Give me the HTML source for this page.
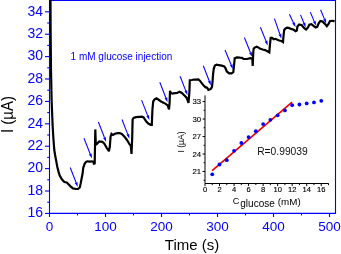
<!DOCTYPE html><html><head><meta charset="utf-8"><style>html,body{margin:0;padding:0;background:#fff;width:341px;height:254px;overflow:hidden}svg{display:block;will-change:transform}text{font-family:"Liberation Sans",sans-serif}</style></head><body>
<svg width="341" height="254" viewBox="0 0 341 254">
<rect width="341" height="254" fill="#fff"/>
<g stroke="#0000ff" stroke-width="1.1" fill="none">
<path d="M49.5,0.5 H335.5 V213.4 H49.5 Z"/>
<path d="M45.00,213.40 H49.5"/>
<path d="M47.20,202.20 H49.5"/>
<path d="M45.00,191.00 H49.5"/>
<path d="M47.20,179.80 H49.5"/>
<path d="M45.00,168.60 H49.5"/>
<path d="M47.20,157.40 H49.5"/>
<path d="M45.00,146.20 H49.5"/>
<path d="M47.20,135.00 H49.5"/>
<path d="M45.00,123.80 H49.5"/>
<path d="M47.20,112.60 H49.5"/>
<path d="M45.00,101.40 H49.5"/>
<path d="M47.20,90.20 H49.5"/>
<path d="M45.00,79.00 H49.5"/>
<path d="M47.20,67.80 H49.5"/>
<path d="M45.00,56.60 H49.5"/>
<path d="M47.20,45.40 H49.5"/>
<path d="M45.00,34.20 H49.5"/>
<path d="M47.20,23.00 H49.5"/>
<path d="M45.00,11.80 H49.5"/>
<path d="M49.50,213.4 V217.00"/>
<path d="M77.50,213.4 V215.40"/>
<path d="M105.50,213.4 V217.00"/>
<path d="M133.50,213.4 V215.40"/>
<path d="M161.50,213.4 V217.00"/>
<path d="M189.50,213.4 V215.40"/>
<path d="M217.50,213.4 V217.00"/>
<path d="M245.50,213.4 V215.40"/>
<path d="M273.50,213.4 V217.00"/>
<path d="M301.50,213.4 V215.40"/>
<path d="M329.50,213.4 V217.00"/>
</g>
<g fill="#0000ff" font-size="14" text-anchor="end">
<text x="43" y="217.10">16</text>
<text x="43" y="194.70">18</text>
<text x="43" y="172.30">20</text>
<text x="43" y="149.90">22</text>
<text x="43" y="127.50">24</text>
<text x="43" y="105.10">26</text>
<text x="43" y="82.70">28</text>
<text x="43" y="60.30">30</text>
<text x="43" y="37.90">32</text>
<text x="43" y="15.50">34</text>
</g>
<g fill="#0000ff" font-size="13.5" text-anchor="middle">
<text x="49.50" y="231">0</text>
<text x="105.50" y="231">100</text>
<text x="161.50" y="231">200</text>
<text x="217.50" y="231">300</text>
<text x="273.50" y="231">400</text>
<text x="329.50" y="231">500</text>
</g>
<text transform="translate(192,250) scale(1,1.02)" font-size="15" text-anchor="middle" fill="#000">Time (s)</text>
<text transform="translate(12.8,114.5) rotate(-90) scale(1,1.06)" font-size="15" text-anchor="middle" fill="#000">I (µA)</text>
<text x="70.6" y="59.5" font-size="10" fill="#0000ff">1 mM glucose injection</text>
<polyline points="50.5,0 50.6,30 51,70 51.6,100 52.2,115 52.6,125 53.5,140 54.3,150 55.1,155 56.2,160.9 57.2,166.5 58.5,171.6 59.6,175.3 61.3,178.4 63.1,180.7 64.4,182.1 66.7,182.5 69,184.8 70.8,186.6 73,188.4 75.8,189 78,188.9 79.8,187.5 80.7,183.4 81.7,178 82.6,173.5 83.2,168 84.7,163.6 86.1,161.8 87.4,161.3 90.2,161.6 92,161.3 93.3,161.8 93.8,163.6 94.7,163.4 95.3,129.4 95.8,144.2 96.5,144.3 99.2,141.4 102.4,141.9 104.2,143.4 106.5,147.5 108.9,151.2 109.8,146.8 110.6,136.5 111.5,133.8 113,135 115.4,133.6 117.8,133.2 119.7,133.2 121.8,134 123.3,135.5 124.5,136.8 126.8,139.7 129.4,144 130.9,146.2 131.5,153.9 132.2,138 132.6,119.5 133.6,118 136,117.2 139.5,116.8 141.9,116.6 143.6,117.4 144.9,119.5 146.5,121.8 148.3,123.6 150.6,124.8 151.8,124.8 152.4,110 153.2,101.5 154.7,99.3 156.5,98.3 158.3,99.5 160.6,101.2 163,102.4 165.3,103.6 167.7,105.4 169,109.3 169.6,103 170,90.8 170.8,93 172.4,93.6 174.8,93.2 177.1,93 179.5,91.8 181.9,93 184.2,95.3 186.6,97.7 188.5,102.8 189.4,92 189.8,80.2 191.8,80 194.2,79.5 196,79.7 198.4,79.5 200.1,80.9 201.9,83.3 203.7,85.6 205.5,87.4 206.6,87.4 207.8,88.6 208.4,90 209.6,89.6 210.8,89 212,86.8 212.5,82.1 213.1,73.8 213.7,69.1 214.9,65.5 216.7,64.6 218.9,65.2 221.8,65.6 224.2,66.4 225.4,68 226.8,71.5 229.2,73.3 231.5,73.3 233.3,72.1 233.9,66.8 234.7,58.2 236.8,57.3 239.8,57.7 241.9,57.8 243.5,59 246.9,59 250.4,58.1 252.3,58.6 252.7,66 253.3,52 253.7,48.5 255,47.4 256.8,46.7 258.6,47.6 260.3,48.8 262.7,49.5 265.1,50.1 267.4,51.2 269.3,52.4 270,44 270.7,37.9 272,37.8 273.8,39.2 275.6,38.8 277.4,39.7 279.2,40.5 281.5,41 283,42 283.6,35 284.2,30 285.3,28.6 287,27.7 288.8,27.9 291,28.9 293.3,29.5 295.6,31.2 296.8,30.6 297.4,26.5 299.2,24.4 301.8,25.2 304,27.9 306.1,29.5 307.7,27.9 309.3,24.7 311.4,24.2 313.5,25.8 315.6,27.4 317.2,26.8 318.8,23.1 320.4,21 322.5,21.5 325.2,24.2 326.8,26.3 328.4,24.2 330,21 332.3,20.8 334.6,21.2" fill="none" stroke="#000" stroke-width="2.2" stroke-linejoin="miter" stroke-miterlimit="2.5" stroke-linecap="butt"/>
<g stroke="#0000ff" stroke-width="1.05" fill="#0000ff">
<line x1="70.2" y1="167.5" x2="76.06" y2="182.53"/>
<path stroke="none" d="M77.8,187.0 L74.71,183.05 L77.41,182.00 Z"/>
<line x1="84.0" y1="138.3" x2="90.23" y2="154.04"/>
<path stroke="none" d="M92.0,158.5 L88.88,154.57 L91.58,153.50 Z"/>
<line x1="98.4" y1="122.0" x2="104.46" y2="137.53"/>
<path stroke="none" d="M106.2,142.0 L103.11,138.05 L105.81,137.00 Z"/>
<line x1="122.0" y1="119.5" x2="127.76" y2="134.33"/>
<path stroke="none" d="M129.5,138.8 L126.41,134.85 L129.11,133.80 Z"/>
<line x1="141.6" y1="100.1" x2="147.66" y2="115.63"/>
<path stroke="none" d="M149.4,120.1 L146.31,116.15 L149.01,115.10 Z"/>
<line x1="159.8" y1="82.2" x2="165.86" y2="97.73"/>
<path stroke="none" d="M167.6,102.2 L164.51,98.25 L167.21,97.20 Z"/>
<line x1="180.1" y1="76.2" x2="185.77" y2="90.82"/>
<path stroke="none" d="M187.5,95.3 L184.41,91.35 L187.12,90.30 Z"/>
<line x1="203.3" y1="65.8" x2="209.25" y2="81.03"/>
<path stroke="none" d="M211.0,85.5 L207.90,81.56 L210.60,80.50 Z"/>
<line x1="225.0" y1="50.0" x2="231.15" y2="64.77"/>
<path stroke="none" d="M233.0,69.2 L229.82,65.33 L232.49,64.21 Z"/>
<line x1="244.4" y1="37.5" x2="250.42" y2="52.54"/>
<path stroke="none" d="M252.2,57.0 L249.07,53.08 L251.76,52.00 Z"/>
<line x1="260.4" y1="27.3" x2="266.00" y2="41.15"/>
<path stroke="none" d="M267.8,45.6 L264.66,41.69 L267.34,40.61 Z"/>
<line x1="274.4" y1="18.6" x2="279.91" y2="34.27"/>
<path stroke="none" d="M281.5,38.8 L278.54,34.75 L281.28,33.79 Z"/>
<line x1="289.4" y1="14.2" x2="293.55" y2="22.96"/>
<path stroke="none" d="M295.6,27.3 L292.24,23.58 L294.86,22.34 Z"/>
<line x1="300.5" y1="14.9" x2="303.93" y2="22.98"/>
<path stroke="none" d="M305.8,27.4 L302.59,23.55 L305.26,22.41 Z"/>
<line x1="310.3" y1="12.3" x2="314.28" y2="21.40"/>
<path stroke="none" d="M316.2,25.8 L312.95,21.98 L315.61,20.82 Z"/>
<line x1="320.6" y1="9.8" x2="324.47" y2="19.16"/>
<path stroke="none" d="M326.3,23.6 L323.13,19.72 L325.81,18.61 Z"/>
</g>
<g stroke="#000" stroke-width="1" fill="none">
<path d="M205.0,95.4 V183.5 H328.7"/>
<path d="M203.60,180.25 H205.0"/>
<path d="M202.60,171.50 H205.0"/>
<path d="M203.60,162.75 H205.0"/>
<path d="M202.60,154.01 H205.0"/>
<path d="M203.60,145.26 H205.0"/>
<path d="M202.60,136.52 H205.0"/>
<path d="M203.60,127.78 H205.0"/>
<path d="M202.60,119.03 H205.0"/>
<path d="M203.60,110.28 H205.0"/>
<path d="M202.60,101.54 H205.0"/>
<path d="M205.00,183.5 V186.10"/>
<path d="M212.26,183.5 V185.10"/>
<path d="M219.53,183.5 V186.10"/>
<path d="M226.79,183.5 V185.10"/>
<path d="M234.06,183.5 V186.10"/>
<path d="M241.32,183.5 V185.10"/>
<path d="M248.59,183.5 V186.10"/>
<path d="M255.85,183.5 V185.10"/>
<path d="M263.12,183.5 V186.10"/>
<path d="M270.38,183.5 V185.10"/>
<path d="M277.65,183.5 V186.10"/>
<path d="M284.91,183.5 V185.10"/>
<path d="M292.18,183.5 V186.10"/>
<path d="M299.44,183.5 V185.10"/>
<path d="M306.71,183.5 V186.10"/>
<path d="M313.98,183.5 V185.10"/>
<path d="M321.24,183.5 V186.10"/>
<path d="M328.50,183.5 V185.10"/>
</g>
<g fill="#000" font-size="7.8" text-anchor="end" stroke="#000" stroke-width="0.12">
<text x="201.2" y="174.30">21</text>
<text x="201.2" y="156.81">24</text>
<text x="201.2" y="139.32">27</text>
<text x="201.2" y="121.83">30</text>
<text x="201.2" y="104.34">33</text>
</g>
<g fill="#000" font-size="7.6" text-anchor="middle" stroke="#000" stroke-width="0.15">
<text x="205.00" y="192.3">0</text>
<text x="219.53" y="192.3">2</text>
<text x="234.06" y="192.3">4</text>
<text x="248.59" y="192.3">6</text>
<text x="263.12" y="192.3">8</text>
<text x="277.65" y="192.3">10</text>
<text x="292.18" y="192.3">12</text>
<text x="306.71" y="192.3">14</text>
<text x="321.24" y="192.3">16</text>
</g>
<text transform="translate(183.6,142) rotate(-90)" font-size="8.6" text-anchor="middle" fill="#000">I (µA)</text>
<text x="232.8" y="204.4" font-size="9.2" fill="#000">C</text>
<text x="240.3" y="207.4" font-size="10" fill="#000">glucose</text>
<text x="277.8" y="204.8" font-size="9.8" fill="#000">(mM)</text>
<text transform="translate(257.2,155.1) scale(1.05,1.1)" font-size="9.8" fill="#111">R=0.99039</text>
<line x1="212.1" y1="170.6" x2="292.1" y2="102.2" stroke="#ee0000" stroke-width="1.6"/>
<g fill="#0000ff">
<circle cx="212.26" cy="174.3" r="1.9"/>
<circle cx="219.53" cy="164.5" r="1.9"/>
<circle cx="226.79" cy="160.2" r="1.9"/>
<circle cx="234.06" cy="150.8" r="1.9"/>
<circle cx="241.32" cy="143.0" r="1.9"/>
<circle cx="248.59" cy="137.1" r="1.9"/>
<circle cx="255.85" cy="131.2" r="1.9"/>
<circle cx="263.12" cy="124.1" r="1.9"/>
<circle cx="270.38" cy="119.8" r="1.9"/>
<circle cx="277.65" cy="115.3" r="1.9"/>
<circle cx="284.91" cy="110.4" r="1.9"/>
<circle cx="292.18" cy="105.2" r="1.9"/>
<circle cx="299.44" cy="104.5" r="1.9"/>
<circle cx="306.71" cy="103.4" r="1.9"/>
<circle cx="313.98" cy="102.4" r="1.9"/>
<circle cx="321.24" cy="100.8" r="1.9"/>
</g>
</svg></body></html>
